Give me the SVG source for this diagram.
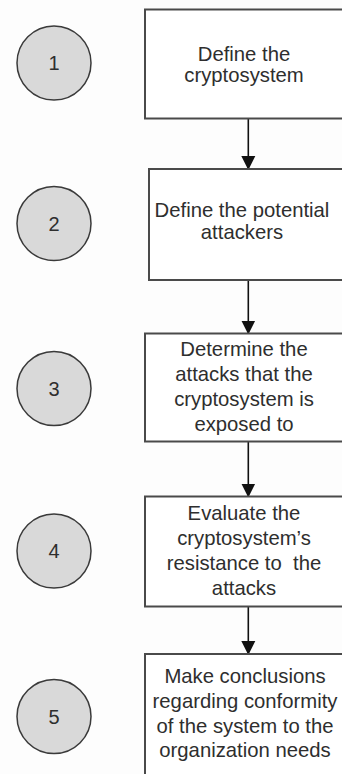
<svg xmlns="http://www.w3.org/2000/svg" width="342" height="774" viewBox="0 0 342 774">
<defs>
<style>
.bg{fill:#fdfdfd}
.box{fill:#ffffff;stroke:#4a4a4a;stroke-width:2}
.circ{fill:#d9d9d9;stroke:#3a3a3a;stroke-width:1.5}
.t{font-family:"Liberation Sans",Arial,sans-serif;font-size:20.3px;fill:#2e2e2e;text-anchor:middle}
.n{font-family:"Liberation Sans",Arial,sans-serif;font-size:20px;fill:#2e2e2e;text-anchor:middle}
.conn{stroke:#111;stroke-width:1.6;fill:none;marker-end:url(#ah)}
</style>
<marker id="ah" markerUnits="userSpaceOnUse" markerWidth="14" markerHeight="15" refX="13" refY="7" orient="auto" viewBox="0 0 14 14">
<path d="M0,0 L14,7 L0,14 Z" fill="#111"/>
</marker>
</defs>
<rect class="bg" x="0" y="0" width="342" height="774"/>
<g id="connectors">
<line class="conn" x1="248.3" y1="119" x2="248.3" y2="169"/>
<line class="conn" x1="248.3" y1="280" x2="248.3" y2="333.5"/>
<line class="conn" x1="248.3" y1="442" x2="248.3" y2="496.5"/>
<line class="conn" x1="248.3" y1="607" x2="248.3" y2="654"/>
</g>
<g id="c1"><circle class="circ" cx="54" cy="63" r="37"/><text class="n" x="54" y="70">1</text></g>
<g id="c2"><circle class="circ" cx="54" cy="223.5" r="37"/><text class="n" x="54" y="230.5">2</text></g>
<g id="c3"><circle class="circ" cx="54" cy="388.5" r="37"/><text class="n" x="54" y="395.5">3</text></g>
<g id="c4"><circle class="circ" cx="54" cy="551" r="37"/><text class="n" x="54" y="558">4</text></g>
<g id="c5"><circle class="circ" cx="54" cy="716.5" r="37"/><text class="n" x="54" y="723.5">5</text></g>
<g id="n1"><rect class="box" x="145" y="9.5" width="210" height="109"/>
<text class="t" x="244" y="61">Define the</text><text class="t" x="244" y="82">cryptosystem</text></g>
<g id="n2"><rect class="box" x="149" y="169" width="210" height="111"/>
<text class="t" x="242" y="217">Define the potential</text><text class="t" x="242" y="239">attackers</text></g>
<g id="n3"><rect class="box" x="145" y="333.5" width="210" height="108"/>
<text class="t" x="244" y="356">Determine the</text><text class="t" x="244" y="381">attacks that the</text><text class="t" x="244" y="406">cryptosystem is</text><text class="t" x="244" y="431">exposed to</text></g>
<g id="n4"><rect class="box" x="145" y="496.5" width="210" height="110"/>
<text class="t" x="244" y="520">Evaluate the</text><text class="t" x="244" y="545">cryptosystem’s</text><text class="t" x="244" y="570" xml:space="preserve">resistance to  the</text><text class="t" x="244" y="595">attacks</text></g>
<g id="n5"><rect class="box" x="145" y="654" width="210" height="130"/>
<text class="t" x="245" y="683">Make conclusions</text><text class="t" x="245" y="708">regarding conformity</text><text class="t" x="245" y="733">of the system to the</text><text class="t" x="245" y="757">organization needs</text></g>
</svg>
